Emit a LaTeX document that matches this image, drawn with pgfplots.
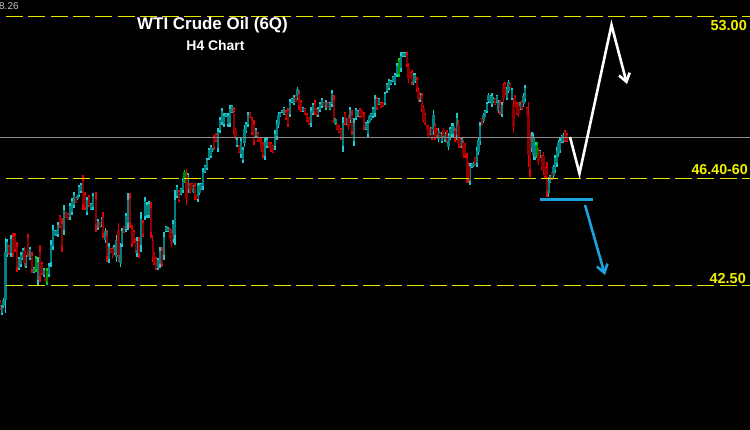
\documentclass[border=0pt]{standalone}
\usepackage{pgfplots}
\pgfplotsset{compat=1.18}
\usepackage{pgfplotstable}
\usepackage{fontspec}
\setmainfont{Liberation Sans}
\usetikzlibrary{arrows.meta}

\definecolor{wickup}{HTML}{1FC8D0}
\definecolor{bodyup}{HTML}{00807F}
\definecolor{wickdn}{HTML}{E80000}
\definecolor{bodydn}{HTML}{8C0000}
\definecolor{wickgr}{HTML}{00D000}
\definecolor{bodygr}{HTML}{008A00}
\definecolor{lvl}{HTML}{E6E600}
\definecolor{lbl}{HTML}{F2F200}
\definecolor{arrowblue}{HTML}{1AA3E0}
\definecolor{curline}{HTML}{8C8C8C}

% candles in screen units: x, top of range, bottom of range, colour (0 up, 1 down, 2 green)
\pgfplotstableread{
x t b c
0 300 310 1
2 305 315 0
3.5 298 308 0
5.5 238 313 0
7 239 257 0
9 245 255 1
11 235 257 0
13 233 257 1
15 233 252 1
17 242 272 1
19 257 270 0
21 252 267 0
23 248 260 0
24.5 247 267 1
26 255 268 0
28 234 257 1
30 247 260 0
32 252 273 1
34 267 273 0
36 256 272 2
38 257 285 0
40 245 282 1
42 262 275 1
44 268 277 0
45.5 277 282 1
47 268 285 2
49 263 277 0
51 240 267 0
53 225 250 0
54.5 230 235 0
56 230 236 0
58 222 237 0
60 215 228 1
62 218 252 1
64 205 235 0
66 212 218 1
68 213 220 1
70 203 220 0
72 198 215 0
74 192 208 0
76 197 203 1
77.5 195 200 0
79 185 197 0
81 183 193 0
83 175 210 1
85 192 210 1
87 197 215 0
89 195 207 1
91 203 210 0
93 193 210 0
96 192 232 1
98 219 230 0
100 222 228 1
101.7 217 227 0
103 212 238 1
105.5 228 243 0
107 230 262 1
109 243 263 0
111 248 253 1
112.7 247 258 1
114 245 255 0
116.5 235 262 0
118.5 223 262 1
120.5 243 267 0
122 228 247 0
124 226 233 1
126 213 232 0
128 193 230 0
130 193 228 1
132 225 247 1
134 230 243 1
135.7 238 253 1
137 237 257 0
139 237 258 1
141 212 252 0
143 220 237 1
145 197 220 0
147 202 218 0
149 201 218 0
151 202 238 1
152.7 235 262 1
154 252 265 1
156 257 270 1
158 258 270 0
160 247 268 0
162 247 267 1
164 232 260 0
166 226 232 0
168 227 232 0
170 228 238 1
171.5 230 247 1
173 220 243 0
175 190 245 0
177 185 198 0
179 190 202 1
181 188 195 0
183 178 193 0
184.5 170 183 2
186.5 169 205 1
188 173 193 0
190 183 193 1
192 183 190 1
193.5 185 193 0
195 183 200 1
196.5 195 200 1
198 183 202 0
199.5 183 195 0
201 183 190 0
203 168 190 0
205 165 173 0
207 158 170 0
209 148 160 0
211 145 158 0
212.5 148 152 0
214 135 150 1
216 133 142 1
218 128 152 0
220 117 133 0
222 108 125 0
224 113 127 0
226 113 117 0
228 113 127 0
230 105 127 0
232 105 113 0
234 107 135 1
235.5 128 140 1
237 138 147 0
239 145 153 1
241 137 158 0
243 147 163 0
244.5 125 147 0
246 122 133 0
248 112 127 0
250 112 118 1
252 117 135 1
254 120 145 1
256 128 138 0
258 132 142 1
260 137 142 1
261.5 138 152 1
263 142 158 1
265 138 160 0
267 138 148 0
269 142 148 1
271 142 152 1
273 145 153 1
275 130 150 0
277 120 140 0
278.5 112 128 0
280 112 117 0
282 110 113 0
284 107 115 0
286 110 120 1
288 108 127 1
290 99 117 0
292 98 103 0
294 95 105 0
296 95 102 1
297.5 87 100 0
299 90 110 1
301 100 112 1
303 107 112 0
305 108 115 1
307 113 122 1
309 117 125 1
311 107 127 0
313 103 115 0
315 100 115 1
316.5 108 117 1
318 107 117 0
320 102 112 0
322 98 108 0
324 102 107 1
326 100 110 0
328 102 108 1
330 102 110 0
332 90 107 0
334 95 123 1
335.5 118 125 0
337 123 130 1
339 125 133 1
341 128 140 1
343 117 152 0
345 112 125 1
347 118 125 0
348.5 115 130 1
350 107 123 0
352 110 135 1
354 118 146 0
356 108 120 0
358 110 117 0
360 108 118 1
362 110 117 1
364 112 130 1
366 122 130 0
368 120 137 0
369.5 115 123 0
371 113 120 0
373 107 118 0
375 95 117 0
377 97 110 1
379 98 105 0
381 102 108 1
383 102 107 1
385 92 105 0
387 83 93 0
389 79 90 0
391 80 85 0
393 76 82 0
395 73 85 0
397 63 77 0
399 58 77 2
401 52 72 0
403 52 57 0
405 52 57 0
407 52 67 1
408.5 63 83 1
410 72 78 1
412 70 85 1
413.5 73 85 0
415 73 83 0
417 77 92 1
418.5 87 102 1
420 93 102 0
422 93 112 1
423.5 105 123 1
425 113 125 1
427 125 130 1
428.5 125 138 1
430 127 135 0
432 127 140 1
433.5 110 135 0
435 123 140 1
437 128 137 1
438.5 128 142 0
440 132 138 1
442 132 143 0
443.5 128 138 1
445 132 142 0
447 130 143 1
448.5 133 150 0
450 127 140 0
452 123 137 0
453.5 123 137 0
455 128 142 1
457 113 140 0
458.5 120 148 1
460 138 148 1
462 137 148 0
463.5 140 158 1
465 143 158 1
467 153 183 1
468.5 162 183 1
470 163 185 0
472 163 168 0
473.5 162 167 0
475 157 165 1
477 147 167 0
478.5 137 155 0
480 122 145 0
482 118 125 1
483.5 113 123 0
485 110 117 0
487 102 113 0
488.5 93 103 0
490 95 103 0
492 93 107 0
493.5 97 103 0
495 98 105 1
497 95 103 0
498.5 100 113 0
500 100 115 1
502 102 117 0
503.5 83 103 1
505 82 95 1
507 87 100 0
508.5 80 93 0
510 83 88 1
512 88 100 0
513.5 98 133 1
515 95 107 1
517 102 115 1
518.5 103 117 1
520 102 110 0
522 100 110 1
523.5 93 107 0
525 85 102 0
527 107 115 1
528.5 102 167 1
530 133 177 1
532 132 152 0
533.5 133 160 0
535 142 160 0
537 142 158 2
538.5 148 165 1
540 150 158 0
542 155 170 1
543.5 152 175 1
545 167 178 1
547 162 197 1
548.5 177 197 0
550 175 183 0
552 172 180 1
553.5 165 178 0
555 155 173 0
557 147 167 0
558.5 140 157 0
560 138 153 0
562 135 143 0
563.5 133 143 0
565 130 142 1
567 133 142 1
}\candles

\pgfplotsset{
  wick/.style n args={3}{draw=none, forget plot,
    restrict expr to domain={\thisrow{c}}{#1:#2},
    error bars/.cd, y dir=plus, y explicit, error mark=none,
    error bar style={draw=#3, line width=1.2bp, solid}},
  body/.style n args={3}{draw=none, forget plot,
    restrict expr to domain={\thisrow{c}}{#1:#2},
    error bars/.cd, y dir=plus, y explicit, error mark=none,
    error bar style={draw=#3, line width=2.4bp, solid}},
}

\begin{document}
\begin{tikzpicture}
\fill[black] (0,0) rectangle (750bp,430bp);
\begin{axis}[
  at={(0,0)}, anchor=south west,
  width=750bp, height=430bp, scale only axis,
  xmin=0, xmax=750, ymin=0, ymax=430, y dir=reverse,
  axis lines=none, clip=true,
]
% wicks
\addplot[wick={-0.5}{0.5}{wickup}] table[x=x, y=t, y error plus expr=\thisrow{b}-\thisrow{t}] {\candles};
\addplot[wick={0.5}{1.5}{wickdn}] table[x=x, y=t, y error plus expr=\thisrow{b}-\thisrow{t}] {\candles};
\addplot[wick={1.5}{2.5}{wickgr}] table[x=x, y=t, y error plus expr=\thisrow{b}-\thisrow{t}] {\candles};
% bodies
\addplot[body={-0.5}{0.5}{bodyup}] table[x=x, y expr=\thisrow{t}+0.18*(\thisrow{b}-\thisrow{t}), y error plus expr=0.64*(\thisrow{b}-\thisrow{t})] {\candles};
\addplot[body={0.5}{1.5}{bodydn}] table[x=x, y expr=\thisrow{t}+0.18*(\thisrow{b}-\thisrow{t}), y error plus expr=0.64*(\thisrow{b}-\thisrow{t})] {\candles};
\addplot[body={1.5}{2.5}{bodygr}] table[x=x, y expr=\thisrow{t}+0.18*(\thisrow{b}-\thisrow{t}), y error plus expr=0.64*(\thisrow{b}-\thisrow{t})] {\candles};

% current price line
\addplot[curline, line width=1.5bp, forget plot] coordinates {(0,137.5) (750,137.5)};
% levels
\addplot[lvl, line width=1.4bp, dash pattern=on 17bp off 5.3bp, forget plot] coordinates {(6,16.5) (750,16.5)};
\addplot[lvl, line width=1.4bp, dash pattern=on 17bp off 5.3bp, forget plot] coordinates {(6,178.5) (750,178.5)};
\addplot[lvl, line width=1.4bp, dash pattern=on 17bp off 5.3bp, forget plot] coordinates {(6,285.5) (750,285.5)};

% projected paths
\addplot[white, line width=2.6bp, line join=miter, -{Straight Barb[length=8bp, width=11bp]}, forget plot]
  coordinates {(570,137) (579.5,173.5) (611.5,25) (627,84)};
\addplot[arrowblue, line width=3bp, forget plot] coordinates {(540,199) (593,199)};
\addplot[arrowblue, line width=2.6bp, -{Straight Barb[length=8bp, width=11bp]}, forget plot]
  coordinates {(585,205) (605,275)};

% texts
\node[white, font=\bfseries\fontsize{17}{19}\selectfont] at (axis cs:212.5,25.5) {WTI Crude Oil (6Q)};
\node[white, font=\bfseries\fontsize{14}{16}\selectfont] at (axis cs:215.5,46) {H4 Chart};
\node[lbl, anchor=east, font=\bfseries\fontsize{14.5}{16}\selectfont, inner sep=0pt] at (axis cs:747,26) {53.00};
\node[lbl, anchor=east, font=\bfseries\fontsize{14.3}{16}\selectfont, inner sep=0pt] at (axis cs:748,170) {46.40-60};
\node[lbl, anchor=east, font=\bfseries\fontsize{14.5}{16}\selectfont, inner sep=0pt] at (axis cs:746,279) {42.50};
\node[gray!45!white, anchor=west, font=\fontsize{10}{12}\selectfont, inner sep=0pt] at (axis cs:-1,6) {8.26};
\end{axis}
\end{tikzpicture}
\end{document}
